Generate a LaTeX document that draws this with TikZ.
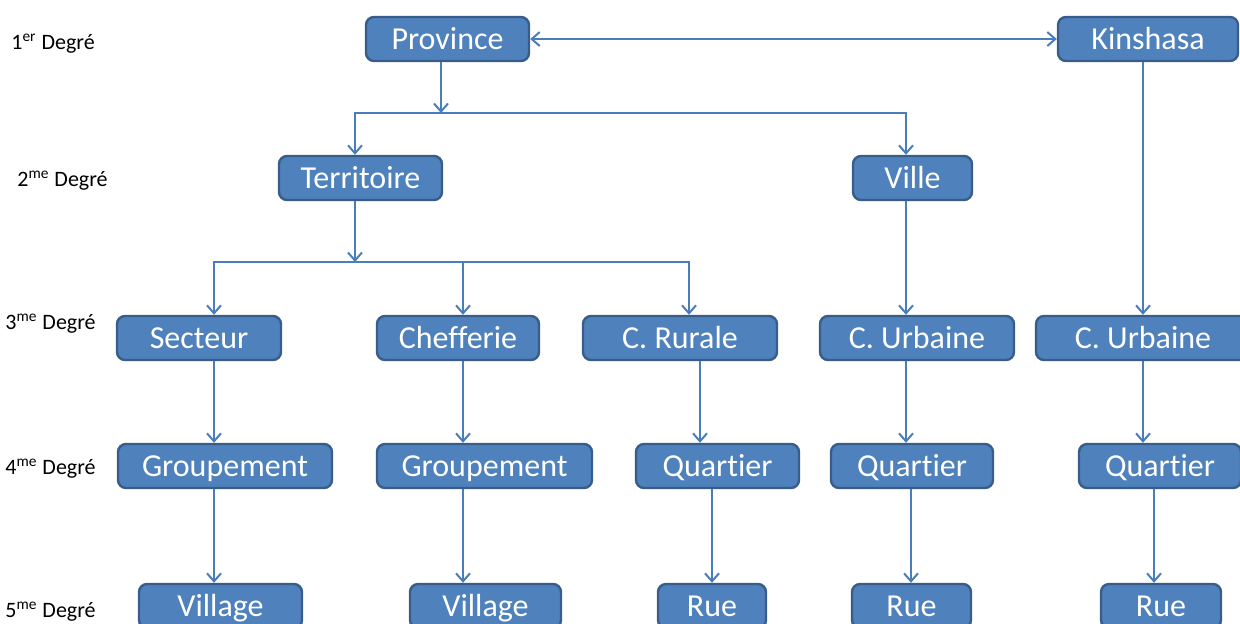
\documentclass[tikz,border=0pt]{standalone}
\usepackage{fontspec}
\setmainfont{Carlito}[Ligatures=NoCommon]
\usetikzlibrary{arrows.meta}
\definecolor{boxfill}{HTML}{4F81BD}
\definecolor{boxline}{HTML}{385D8A}
\definecolor{lnk}{HTML}{4A7EBB}

\begin{document}
\begin{tikzpicture}[x=0.5pt,y=-0.5pt,>={Straight Barb[length=4pt,width=7pt]},
  b/.style={draw=boxline,fill=boxfill,line width=1.2pt,rounded corners=4pt,
    text=white,font=\fontsize{16}{18}\selectfont,inner sep=0pt,
    minimum height=22pt,text height=10.3pt,text depth=0pt},
  deg/.style={anchor=west,inner sep=0pt,font=\fontsize{11}{13}\selectfont,
    text height=7pt,text depth=0pt},
  l/.style={draw=lnk,line width=1pt}]
\useasboundingbox (0,0) rectangle (1240,623);

% degres
\node[deg] (d1) at (11,42) {1\textsuperscript{er} Degré};
\node[deg] (d2) at (17,179) {2\textsuperscript{me} Degré};
\node[deg] (d3) at (5,322) {3\textsuperscript{me} Degré};
\node[deg] (d4) at (5,467) {4\textsuperscript{me} Degré};
\node[deg] (d5) at (5,610) {5\textsuperscript{me} Degré};

% 1er degre
\node[b,minimum width=81.5pt] (prov) at (447.5,39) {Province};
\node[b,minimum width=90pt] (kin) at (1148,39) {Kinshasa};

% 2me degre
\node[b,minimum width=81.5pt] (terr) at (360.5,178) {Territoire};
\node[b,minimum width=59.5pt] (ville) at (912.5,178) {Ville};

% 3me degre
\node[b,minimum width=82pt] (sect) at (199,338) {Secteur};
\node[b,minimum width=81pt] (chef) at (458,338) {Chefferie};
\node[b,minimum width=97pt] (crur) at (680,338) {C. Rurale};
\node[b,minimum width=97pt] (curb) at (917,338) {C. Urbaine};
\node[b,minimum width=107pt] (curbk) at (1143,338) {C. Urbaine};

% 4me degre
\node[b,minimum width=107pt] (grp1) at (225,466) {Groupement};
\node[b,minimum width=107.5pt] (grp2) at (484.5,466) {Groupement};
\node[b,minimum width=81.5pt] (qrt1) at (717.5,466) {Quartier};
\node[b,minimum width=81pt] (qrt2) at (912,466) {Quartier};
\node[b,minimum width=81pt] (qrt3) at (1160,466) {Quartier};

% 5me degre
\node[b,minimum width=81.5pt] (vil1) at (220.5,606) {Village};
\node[b,minimum width=75.5pt] (vil2) at (485.5,606) {Village};
\node[b,minimum width=54pt] (rue1) at (712,606) {Rue};
\node[b,minimum width=59.5pt] (rue2) at (911.5,606) {Rue};
\node[b,minimum width=60pt] (rue3) at (1161,606) {Rue};

% liaisons
\draw[l,<->] (prov) -- (kin);

\coordinate (p1) at (441,113);
\coordinate (t1) at (355,113);
\coordinate (v1) at (906,113);
\draw[l,->] (prov.south -| p1) -- (p1);
\draw[l,<->] (terr.north -| t1) -- (t1) -- (v1) -- (ville.north -| v1);

\coordinate (t2) at (355,262);
\coordinate (s2) at (214,262);
\coordinate (c2) at (463,262);
\coordinate (r2) at (689,262);
\draw[l,->] (terr.south -| t2) -- (t2);
\draw[l,<->] (sect.north -| s2) -- (s2) -- (r2) -- (crur.north -| r2);
\draw[l,->] (c2) -- (chef.north -| c2);

\draw[l,->] (ville.south -| 906,0) -- (curb.north -| 906,0);
\draw[l,->] (kin.south -| 1143,0) -- (curbk.north -| 1143,0);

\draw[l,->] (sect.south -| 214,0) -- (grp1.north -| 214,0);
\draw[l,->] (grp1.south -| 214,0) -- (vil1.north -| 214,0);
\draw[l,->] (chef.south -| 463,0) -- (grp2.north -| 463,0);
\draw[l,->] (grp2.south -| 463,0) -- (vil2.north -| 463,0);
\draw[l,->] (crur.south -| 700,0) -- (qrt1.north -| 700,0);
\draw[l,->] (qrt1.south -| 712,0) -- (rue1.north -| 712,0);
\draw[l,->] (curb.south -| 906,0) -- (qrt2.north -| 906,0);
\draw[l,->] (qrt2.south -| 911,0) -- (rue2.north -| 911,0);
\draw[l,->] (curbk.south -| 1143,0) -- (qrt3.north -| 1143,0);
\draw[l,->] (qrt3.south -| 1154,0) -- (rue3.north -| 1154,0);
\end{tikzpicture}
\end{document}
